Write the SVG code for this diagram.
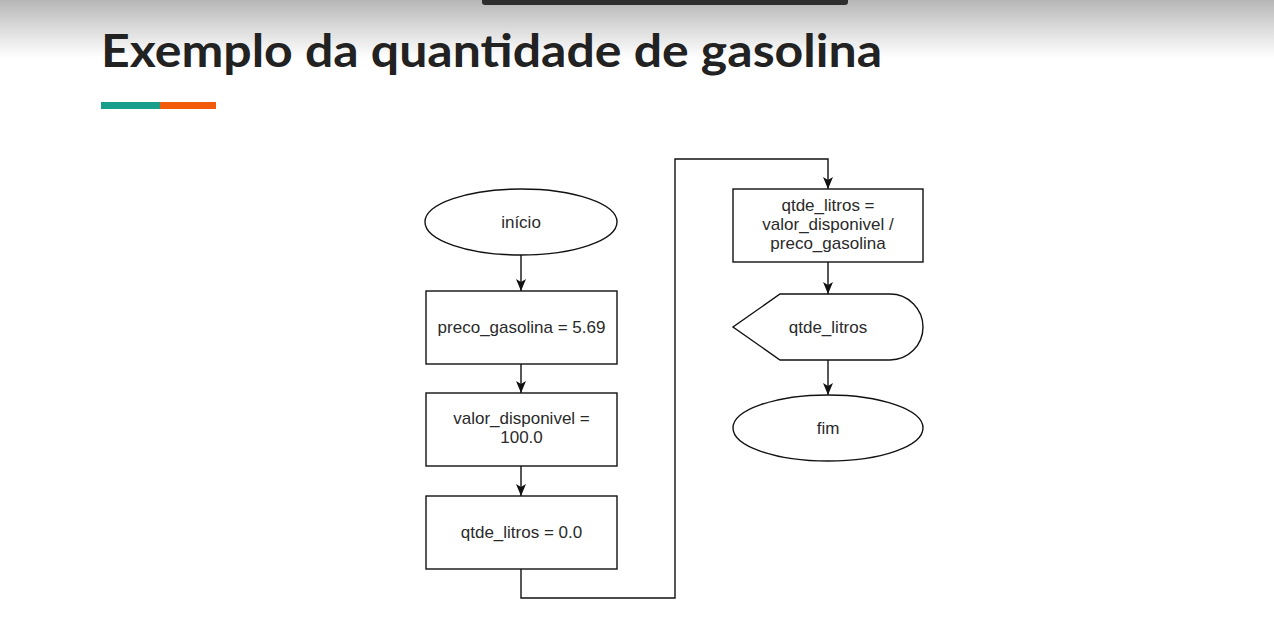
<svg xmlns="http://www.w3.org/2000/svg" width="1274" height="620" viewBox="0 0 1274 620">
<defs>
<linearGradient id="hdr" x1="0" y1="0" x2="0" y2="1">
<stop offset="0" stop-color="#b6b6b6"/>
<stop offset="0.5" stop-color="#dcdcdc"/>
<stop offset="1" stop-color="#ffffff"/>
</linearGradient>
<marker id="arr" viewBox="0 0 12 10" refX="12" refY="5" markerWidth="12" markerHeight="10" markerUnits="userSpaceOnUse" orient="auto">
<path d="M0,0 L12,5 L0,10 L3,5 Z" fill="#111"/>
</marker>
</defs>
<style>
.shape{fill:#fff;stroke:#111;stroke-width:1.4}
.lbl{font-family:"Liberation Sans",Arial,sans-serif;font-size:17px;fill:#2a2a2a;text-anchor:middle}
.con{fill:none;stroke:#111;stroke-width:1.4}
</style>
<rect x="0" y="0" width="1274" height="620" fill="#fff"/>
<rect x="0" y="0" width="1274" height="58" fill="url(#hdr)"/>
<path d="M482,0 H848 V2 Q848,5 845,5 H485 Q482,5 482,2 Z" fill="#2e2e2e"/>
<text x="101" y="67" font-family="Lato, 'Noto Sans', sans-serif" font-weight="700" font-size="45" fill="#222" textLength="781" lengthAdjust="spacingAndGlyphs">Exemplo da quantidade de gasolina</text>
<rect x="101" y="102" width="59" height="7" fill="#1a9e8c"/>
<rect x="160" y="102" width="56" height="7" fill="#f05a0a"/>

<g id="connectors">
<path class="con" d="M521,255 V291" marker-end="url(#arr)"/>
<path class="con" d="M521,364 V393" marker-end="url(#arr)"/>
<path class="con" d="M521,466 V496" marker-end="url(#arr)"/>
<path class="con" d="M521,569 V598 H675 V159 H828 V189" marker-end="url(#arr)"/>
<path class="con" d="M828,262 V294" marker-end="url(#arr)"/>
<path class="con" d="M828,360 V395" marker-end="url(#arr)"/>
</g>

<g id="inicio">
<ellipse class="shape" cx="521" cy="222" rx="96" ry="33"/>
<text class="lbl" x="521" y="228">início</text>
</g>
<g id="preco">
<rect class="shape" x="426" y="291" width="191" height="73"/>
<text class="lbl" x="521.5" y="333">preco_gasolina = 5.69</text>
</g>
<g id="valor">
<rect class="shape" x="426" y="393" width="191" height="73"/>
<text class="lbl" x="521.5" y="424">valor_disponivel =</text>
<text class="lbl" x="521.5" y="443">100.0</text>
</g>
<g id="qtde0">
<rect class="shape" x="426" y="496" width="191" height="73"/>
<text class="lbl" x="521.5" y="538">qtde_litros = 0.0</text>
</g>
<g id="calc">
<rect class="shape" x="733" y="189" width="190" height="73"/>
<text class="lbl" x="828" y="211">qtde_litros =</text>
<text class="lbl" x="828" y="230">valor_disponivel /</text>
<text class="lbl" x="828" y="249">preco_gasolina</text>
</g>
<g id="display">
<path class="shape" d="M780,294 H890 A33,33 0 0 1 890,360 H780 L733,327 Z"/>
<text class="lbl" x="828" y="333">qtde_litros</text>
</g>
<g id="fim">
<ellipse class="shape" cx="828" cy="428" rx="95" ry="33"/>
<text class="lbl" x="828" y="434">fim</text>
</g>
</svg>
